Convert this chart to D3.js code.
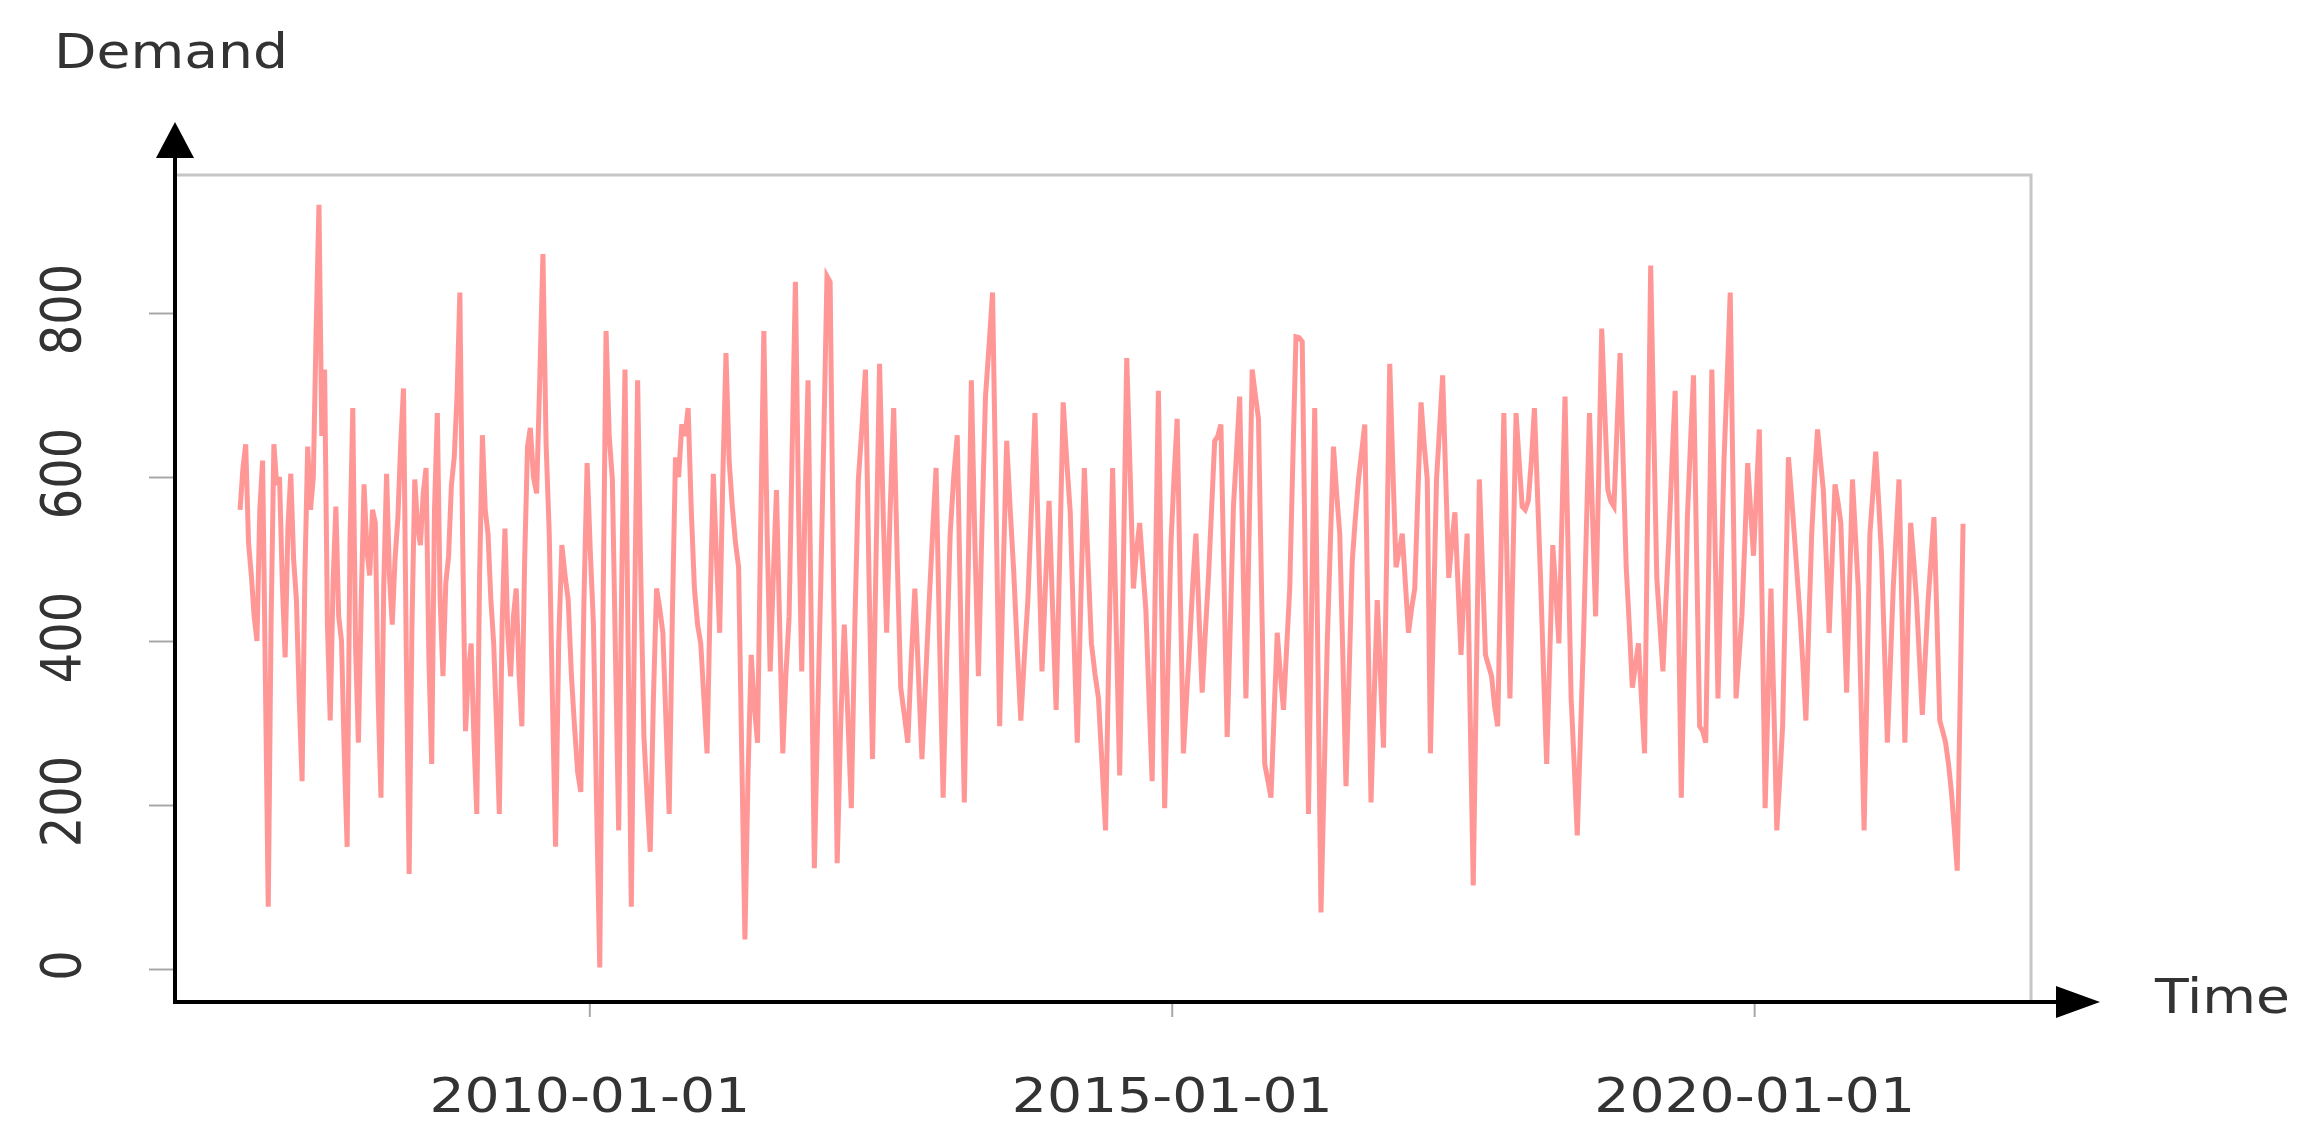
<!DOCTYPE html>
<html>
<head>
<meta charset="utf-8">
<script src="https://cdn.jsdelivr.net/npm/d3@7"></script>
<style>
  body { margin: 0; background: #fff; }
  text { font-family: "DejaVu Sans", sans-serif; fill: #333; }
</style>
</head>
<body>
<script>
// demand readings, one array per stretch of time
var demand2007 = [560, 610, 640, 520, 480, 430, 400, 560, 620, 350, 76, 420, 640, 590, 600, 470, 380, 540, 604, 500,
    450, 330, 229, 480, 637, 560, 600, 780, 932, 650, 731, 420, 303, 470, 564, 430, 400, 260, 149, 520,
    684, 390, 276, 450, 591, 510, 480, 560, 544, 330, 209, 470, 604, 480, 420, 500, 550, 640, 708, 380,
    116, 420, 597, 540, 517, 580, 611, 380, 250, 560, 678, 450, 357, 470, 504, 590, 624, 700, 825, 520,
    290, 360, 397, 280, 189, 480, 651, 560, 530, 450, 397, 300, 189, 420, 537, 410, 357, 430, 464, 360,
    296, 500, 637];
var demand2009 = [660, 600, 580, 720, 872, 640, 531, 330, 149, 400, 517, 480, 450, 360, 296, 240, 216, 450, 617, 510,
    420, 200, 2, 420, 778, 650, 597, 380, 169, 480, 731, 390, 76, 420, 718, 480, 283, 210, 143, 330,
    464, 440, 410, 300, 189, 430, 624, 600, 664, 650, 684, 560, 464, 420, 397, 330, 263, 450, 604, 500,
    410, 600, 751, 620, 564, 520, 490, 260, 36, 240, 383, 320, 276, 540, 778, 540, 363, 480, 584, 420,
    263, 360, 430, 640, 838, 560, 363, 560, 718, 420, 123, 300, 464, 650, 845];
var demand2012 = [838, 460, 129, 300, 420, 310, 196, 420, 597, 660, 731, 480, 256, 500, 738, 560, 410, 560, 684, 500,
    343, 310, 276, 380, 464, 360, 256, 350, 444, 530, 611, 400, 209, 380, 531, 600, 651, 420, 203, 460,
    718, 520, 357, 540, 698, 760, 825, 560, 296, 480, 644, 560, 484, 390, 303, 380, 450, 560, 678, 520,
    363, 470, 571, 440, 316, 500, 691, 620, 557, 410, 276, 450, 611, 500, 397, 360, 330, 250, 169, 400,
    611, 420, 236, 480, 745];
var demand2014 = [600, 464, 510, 544, 490, 437, 330, 229, 470, 705, 450, 196, 360, 517, 600, 671, 460, 263, 330, 397,
    470, 531, 430, 337, 410, 477, 560, 644, 650, 664, 470, 283, 420, 564, 630, 698, 510, 330, 530, 731,
    700, 671, 460, 250, 230, 209, 310, 410, 360, 316, 390, 464, 620, 771, 770, 765, 480, 189, 440, 684,
    380, 69, 230, 397, 520, 637, 580, 531, 380, 223, 360, 497, 550, 597, 630, 664, 430, 203, 330, 450,
    360, 270, 500, 738, 610, 490, 510, 531, 470, 410, 440, 464, 580, 691, 640, 597];
var demand2017 = [263, 430, 597, 660, 724, 600, 477, 520, 557, 470, 383, 460, 531, 310, 102, 350, 597, 490, 383, 370,
    357, 320, 296, 490, 678, 500, 330, 500, 678, 620, 564, 560, 571, 620, 684, 580, 477, 360, 250, 380,
    517, 460, 397, 550, 698, 510, 330, 250, 163, 280, 397, 540, 678, 550, 430, 600, 781, 680, 584, 570,
    564, 660, 751, 620, 490, 420, 343, 370, 397, 330, 263, 560, 858, 660, 477, 420, 363, 450, 531, 620,
    705, 460, 209, 380, 551, 640, 724, 510, 296, 290, 276, 500, 731, 530, 330, 480, 624, 720];
var demand2019 = [825, 580, 330, 380, 430, 520, 617, 560, 504, 580, 658, 430, 196, 330, 464, 320, 169, 230, 296, 460,
    624, 580, 531, 480, 430, 370, 303, 420, 531, 600, 658, 620, 584, 500, 410, 500, 591, 570, 544, 440,
    337, 470, 597, 530, 464, 320, 169, 350, 531, 580, 631, 570, 504, 390, 276, 370, 464, 530, 597, 440,
    276, 410, 544, 500, 450, 380, 310, 380, 450, 500, 551, 430, 303, 290, 276, 250, 216, 170, 120, 330,
    543];
var segments = [demand2007, demand2009, demand2012, demand2014, demand2017, demand2019];
var segmentDates = ["2007-01-02", "2009-06-30", "2012-01-26", "2014-08-24", "2017-03-22", "2019-10-18", "2021-10-17"];

var xDomain = ["2006-06-12", "2022-05-18"];
var xTicks = ["2010-01-01", "2015-01-01", "2020-01-01"];
var yTicks = [0, 200, 400, 600, 800];

var parse = d3.utcParse("%Y-%m-%d");
var width = 2319, height = 1135;
var plotLeft = 175, plotRight = 2031, plotTop = 175, plotBottom = 1002;

var points = [];
segments.forEach(function(vals, i) {
    var t0 = parse(segmentDates[i]).getTime();
    var t1 = parse(segmentDates[i + 1]).getTime();
    var last = i == segments.length - 1;
    var step = (t1 - t0) / (last ? vals.length - 1 : vals.length);
    vals.forEach(function(v, j) {
        points.push({date: new Date(t0 + j * step), value: v});
    });
});

var x = d3.scaleUtc().domain(xDomain.map(parse)).range([plotLeft, plotRight]);
var y = d3.scaleLinear().domain([0, 800]).range([969, 313]);

var svg = d3.select("body").append("svg")
    .attr("width", width)
    .attr("height", height);

svg.append("rect").attr("width", width).attr("height", height).attr("fill", "#fff");

// light frame round the plot
svg.append("path")
    .attr("d", "M" + plotLeft + "," + plotTop + "H" + plotRight + "V" + plotBottom)
    .attr("fill", "none")
    .attr("stroke", "#c6c6c6")
    .attr("stroke-width", 3);

svg.append("path")
    .datum(points)
    .attr("fill", "none")
    .attr("stroke", "#ff3030")
    .attr("stroke-opacity", 0.5)
    .attr("stroke-width", 5)
    .attr("d", d3.line().x(function(d) { return x(d.date); }).y(function(d) { return y(d.value); }));

var yAxis = svg.append("g")
    .attr("transform", "translate(" + plotLeft + ",0)")
    .call(d3.axisLeft(y).tickValues(yTicks).tickSize(26).tickFormat(d3.format("d")));
yAxis.select(".domain").remove();
yAxis.selectAll("line").attr("stroke", "#a8a8a8").attr("stroke-width", 2).attr("x2", -26).attr("x1", -2);
yAxis.selectAll("text")
    .attr("x", null).attr("dy", null)
    .attr("text-anchor", "middle")
    .attr("transform", "translate(-95,-4) scale(1.15,1) rotate(-90)")
    .style("font-size", "48px")
    .style("font-family", "DejaVu Sans")
    .attr("fill", "#333");

var xAxis = svg.append("g")
    .attr("transform", "translate(0," + plotBottom + ")")
    .call(d3.axisBottom(x).tickValues(xTicks.map(parse)).tickSize(15).tickFormat(d3.utcFormat("%Y-%m-%d")));
xAxis.select(".domain").remove();
xAxis.selectAll("line").attr("stroke", "#a8a8a8").attr("stroke-width", 2);
xAxis.selectAll("text")
    .attr("y", null).attr("dy", null)
    .attr("transform", "translate(0,110) scale(1.15,1)")
    .style("font-size", "48px")
    .style("font-family", "DejaVu Sans")
    .attr("fill", "#333");

// black axes with arrow heads
svg.append("line")
    .attr("x1", plotLeft).attr("y1", plotBottom + 2)
    .attr("x2", plotLeft).attr("y2", 156)
    .attr("stroke", "#000").attr("stroke-width", 4);
svg.append("line")
    .attr("x1", plotLeft - 2).attr("y1", plotBottom)
    .attr("x2", 2058).attr("y2", plotBottom)
    .attr("stroke", "#000").attr("stroke-width", 4);
svg.append("path")
    .attr("d", "M" + plotLeft + ",122L" + (plotLeft + 19) + ",158L" + (plotLeft - 19) + ",158Z")
    .attr("fill", "#000");
svg.append("path")
    .attr("d", "M2100," + plotBottom + "L2056," + (plotBottom - 16) + "L2056," + (plotBottom + 16) + "Z")
    .attr("fill", "#000");

svg.append("text")
    .attr("transform", "translate(54,68) scale(1.15,1)")
    .style("font-size", "48px")
    .text("Demand");

svg.append("text")
    .attr("transform", "translate(2155,1013) scale(1.15,1)")
    .style("font-size", "48px")
    .text("Time");
</script>
</body>
</html>
